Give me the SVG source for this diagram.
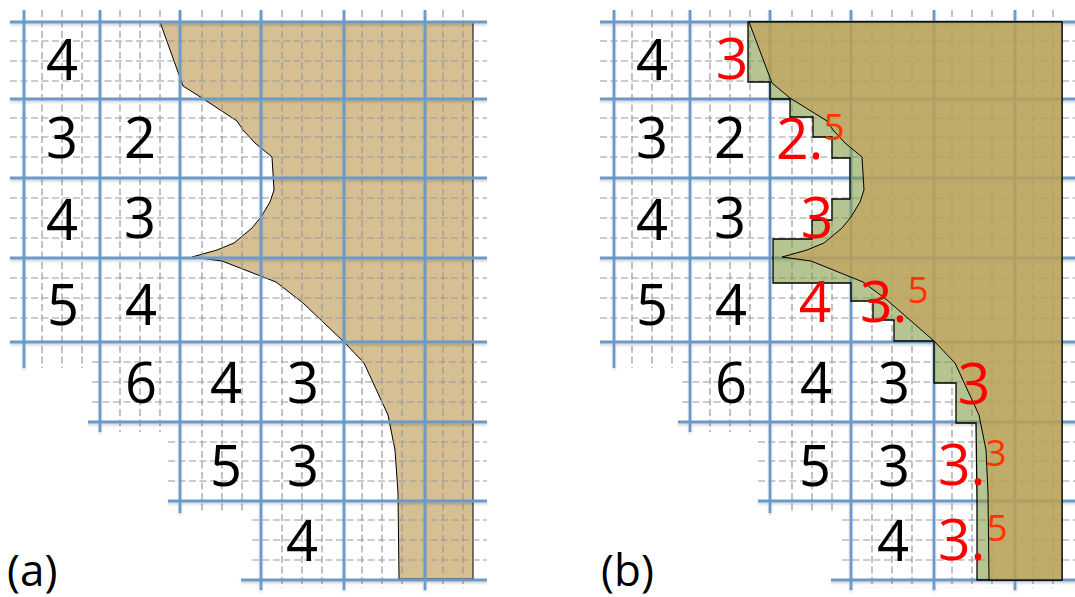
<svg xmlns="http://www.w3.org/2000/svg" width="1075" height="597" viewBox="0 0 1075 597">
<style>
text{font-family:"Open Sans","Noto Sans","Liberation Sans",sans-serif}
.d{font-size:56px;fill:#000;text-anchor:middle}
.r{font-size:57px;fill:#ff0000;text-anchor:middle}
.rs{font-size:57px;fill:#ff0000}
.s{font-size:37px;fill:#ff3300;text-anchor:middle}
.l{font-size:44px;fill:#000}
.b{stroke:#6a9aca;stroke-width:2.8;fill:none}
.g{stroke:#999;stroke-width:1.2;stroke-dasharray:7 3.5;fill:none}
.tanl{fill:#d6bf92;stroke:#000;stroke-width:1}
.tan{fill:#c4a35a;fill-opacity:.7;stroke:#000;stroke-width:1}
.gr{fill:#859d49;fill-opacity:.6;stroke:#000;stroke-width:1.3}
</style>
<defs>
<filter id="sh" x="-5%" y="-5%" width="110%" height="110%"><feDropShadow dx="0" dy="2" stdDeviation="1.2" flood-color="#000" flood-opacity=".16"/></filter>
<g id="grid">
<g class="g">
<path d="M10 41H487M10 61H487M10 81H487M10 118H487M10 137H487M10 157H487M10 198H487M10 218H487M10 238H487M10 278H487M10 298H487M10 318H487M92 362H487M92 382H487M92 402H487M168 442H487M168 461H487M168 481H487M252 520H487M252 540H487M252 560H487"/>
<path d="M42 10V368M62 10V368M82 10V368M120 10V432M140 10V432M160 10V432M202 10V513M222 10V513M242 10V513M282 10V588M302 10V588M322 10V588M362 10V588M382 10V588M402 10V588M443 10V588M463 10V588"/>
</g>
<g class="b" filter="url(#sh)">
<path d="M10 22H487M10 99H487M10 178H487M10 258H487M10 342H487M88 422H487M168 501H487M241 580H487"/>
<path d="M24 10V368M100 10V432M180 10V513M261 10V590M344 10V590M425 10V590"/>
</g>
</g>
</defs>

<g id="panel-a">
<path id="shape-a" class="tanl" d="M160 22L183 86L202 98L237 121L243 130L255 143L272 157L274 190L270 202L261 217L252 228L234 243L217 250L192 257L222 261L276 282L303 303L344 342L364 363L388 415L395 450L398 493L399 579H473V22Z"/>
<use href="#grid"/>
<g id="numbers-a" class="d">
<text x="62" y="80">4</text><text x="62" y="158">3</text><text x="140" y="158">2</text>
<text x="62" y="240">4</text><text x="140" y="238">3</text>
<text x="63" y="325">5</text><text x="141" y="325">4</text>
<text x="141" y="403">6</text><text x="226" y="403">4</text><text x="303" y="403">3</text>
<text x="226" y="486">5</text><text x="303" y="486">3</text>
<text x="302" y="561">4</text>
</g>
<text class="l" x="7" y="586">(a)</text>
</g>

<g id="panel-b">
<use href="#grid" transform="translate(590 0)"/>
<path id="stairs" class="gr" d="M748 22H1062V580H977V500L976 423H956V383H934V341H894V320H873V301H851V283H773V239H812V220H832V199H850V158H832V137H813V117H790V99H770V82H748Z"/>
<path id="shape-b" class="tan" d="M749 22L772 83L790 98L827 121L833 130L845 143L862 157L864 190L860 202L851 217L842 228L824 243L807 250L782 257L811 261L863 282L887 300L934 341L955 363L979 415L986 450L988 493L989 580H1062V22Z"/>
<g id="numbers-b" class="d">
<text x="652" y="80">4</text><text x="652" y="158">3</text><text x="730" y="158">2</text>
<text x="652" y="240">4</text><text x="730" y="238">3</text>
<text x="652" y="325">5</text><text x="731" y="325">4</text>
<text x="731" y="403">6</text><text x="816" y="403">4</text><text x="894" y="403">3</text>
<text x="815" y="486">5</text><text x="894" y="486">3</text>
<text x="893" y="561">4</text>
</g>
<g id="red-b">
<text class="r" x="732" y="79">3</text>
<text class="rs" x="776" y="159">2.</text><text class="s" x="834" y="140">5</text>
<text class="r" x="817" y="238">3</text>
<text class="r" x="815" y="322">4</text>
<text class="rs" x="860" y="322">3.</text><text class="s" x="918" y="303">5</text>
<text class="r" x="974" y="404">3</text>
<text class="rs" x="938" y="485">3.</text><text class="s" x="996" y="466">3</text>
<text class="rs" x="938" y="560">3.</text><text class="s" x="997" y="541">5</text>
</g>
<text class="l" x="601" y="586">(b)</text>
</g>
</svg>
